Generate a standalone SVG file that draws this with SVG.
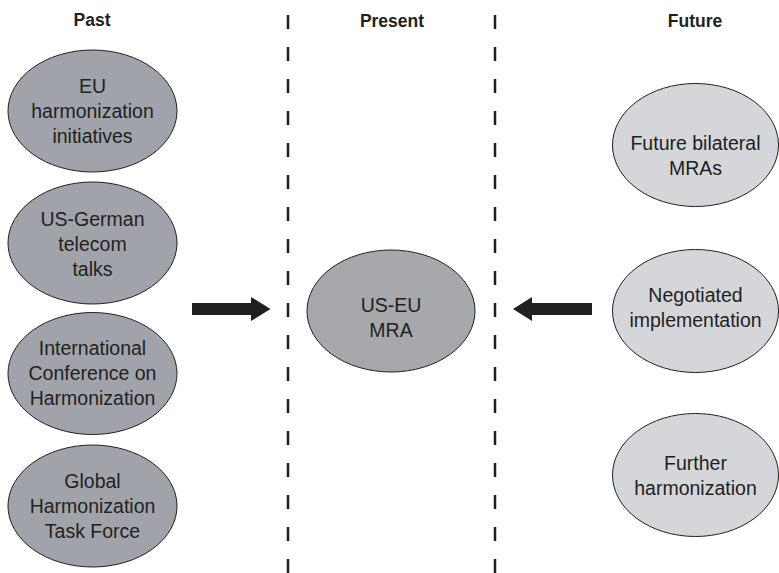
<svg xmlns="http://www.w3.org/2000/svg" width="779" height="573" viewBox="0 0 779 573">
<style>
.hdr{font-family:"Liberation Sans",Arial,sans-serif;font-weight:bold;font-size:17.5px;fill:#231f20;text-anchor:middle}
.lbl{font-family:"Liberation Sans",Arial,sans-serif;font-size:19.5px;fill:#231f20;text-anchor:middle}
.past{fill:#a0a4aa;stroke:#231f20;stroke-width:1}
.pres{fill:#a7a8ab;stroke:#231f20;stroke-width:1}
.fut{fill:#d4d6d9;stroke:#231f20;stroke-width:1}
.div{stroke:#231f20;stroke-width:2.5;stroke-dasharray:14 18;fill:none}
.arr{fill:#231f20}
</style>
<rect width="779" height="573" fill="#ffffff"/>
<g id="headers">
<text class="hdr" x="92" y="26">Past</text>
<text class="hdr" x="392" y="27">Present</text>
<text class="hdr" x="695" y="27">Future</text>
</g>
<g id="dividers">
<line class="div" x1="288" y1="15" x2="288" y2="573"/>
<line class="div" x1="495" y1="15" x2="495" y2="573"/>
</g>
<g id="past1">
<ellipse class="past" cx="92.5" cy="111" rx="84.5" ry="61"/>
<text class="lbl" x="92.5" y="93">EU</text>
<text class="lbl" x="92.5" y="118">harmonization</text>
<text class="lbl" x="92.5" y="143">initiatives</text>
</g>
<g id="past2">
<ellipse class="past" cx="92.5" cy="243" rx="84.5" ry="61"/>
<text class="lbl" x="92.5" y="226">US-German</text>
<text class="lbl" x="92.5" y="251">telecom</text>
<text class="lbl" x="92.5" y="276">talks</text>
</g>
<g id="past3">
<ellipse class="past" cx="92.5" cy="373.5" rx="84.5" ry="61"/>
<text class="lbl" x="92.5" y="355">International</text>
<text class="lbl" x="92.5" y="380">Conference on</text>
<text class="lbl" x="92.5" y="405">Harmonization</text>
</g>
<g id="past4">
<ellipse class="past" cx="92.5" cy="506" rx="84.5" ry="61"/>
<text class="lbl" x="92.5" y="488">Global</text>
<text class="lbl" x="92.5" y="513">Harmonization</text>
<text class="lbl" x="92.5" y="538">Task Force</text>
</g>
<g id="present">
<ellipse class="pres" cx="391" cy="311" rx="84" ry="61"/>
<text class="lbl" x="391" y="312">US-EU</text>
<text class="lbl" x="391" y="337">MRA</text>
</g>
<g id="future1">
<ellipse class="fut" cx="695.5" cy="145" rx="83" ry="61.5"/>
<text class="lbl" x="695.5" y="150">Future bilateral</text>
<text class="lbl" x="695.5" y="175">MRAs</text>
</g>
<g id="future2">
<ellipse class="fut" cx="695.5" cy="311" rx="83" ry="61.5"/>
<text class="lbl" x="695.5" y="302">Negotiated</text>
<text class="lbl" x="695.5" y="327">implementation</text>
</g>
<g id="future3">
<ellipse class="fut" cx="695.5" cy="475" rx="83" ry="61.5"/>
<text class="lbl" x="695.5" y="470">Further</text>
<text class="lbl" x="695.5" y="495">harmonization</text>
</g>
<g id="connectors">
<polygon class="arr" points="192,303 251,303 251,297 270.5,309 251,321 251,315 192,315"/>
<polygon class="arr" points="592,303 532,303 532,297 513,309 532,321 532,315 592,315"/>
</g>
</svg>
